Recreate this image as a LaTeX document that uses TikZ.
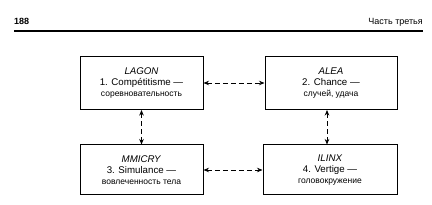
\documentclass[tikz,border=0pt]{standalone}
\usepackage{fontspec}
\setmainfont{Liberation Sans}
\usetikzlibrary{arrows.meta}
\newcommand{\rutxt}{\fontsize{8.5}{11}\selectfont}
\begin{document}
\begin{tikzpicture}[x=1pt,y=-1pt,
  gbox/.style={draw=black, line width=1pt, minimum height=52pt, align=center, inner sep=0pt,
    font=\fontsize{9.7}{11}\selectfont},
  link/.style={line width=0.8pt, dash pattern=on 5pt off 3pt,
    {Stealth[length=5.5pt,width=4.5pt]}-{Stealth[length=5.5pt,width=4.5pt]}}
]
\useasboundingbox (0,0) rectangle (432,205);
\node[anchor=base west, inner sep=0pt, font=\bfseries\fontsize{9}{10}\selectfont] (pg) at (14,25) {188};
\node[anchor=base east, inner sep=0pt, font=\fontsize{9}{10}\selectfont] (ch) at (423,25) {Часть третья};
\coordinate (rl) at (14,31);
\coordinate (rr) at (423,31);
\draw[line width=1.3pt] (rl) -- (rr);

\node[gbox, minimum width=123pt, minimum height=53pt] (b1) at (141.5,83)
  {\textit{LAGON}\\1. Compétitisme —\\{\rutxt соревновательность}};
\node[gbox, minimum width=132pt, minimum height=53pt] (b2) at (331,83)
  {\textit{ALEA}\\2. Chance —\\{\rutxt случей, удача}};
\node[gbox, minimum width=123pt, minimum height=50pt] (b3) at (141.5,170)
  {\textit{MMICRY}\\3. Simulance —\\{\rutxt вовлеченность тела}};
\node[gbox, minimum width=134pt, minimum height=50pt] (b4) at (330,170)
  {\textit{ILINX}\\4. Vertige —\\{\rutxt головокружение}};

\draw[link] (b1.east) -- (b2.west);
\draw[link] (b3.east) -- (b4.west);
\draw[link] (b1.south) -- (b3.north);
\coordinate (t2) at ([xshift=-4pt]b2.south);
\draw[link] (t2) -- (t2 |- b4.north);
\end{tikzpicture}
\end{document}
